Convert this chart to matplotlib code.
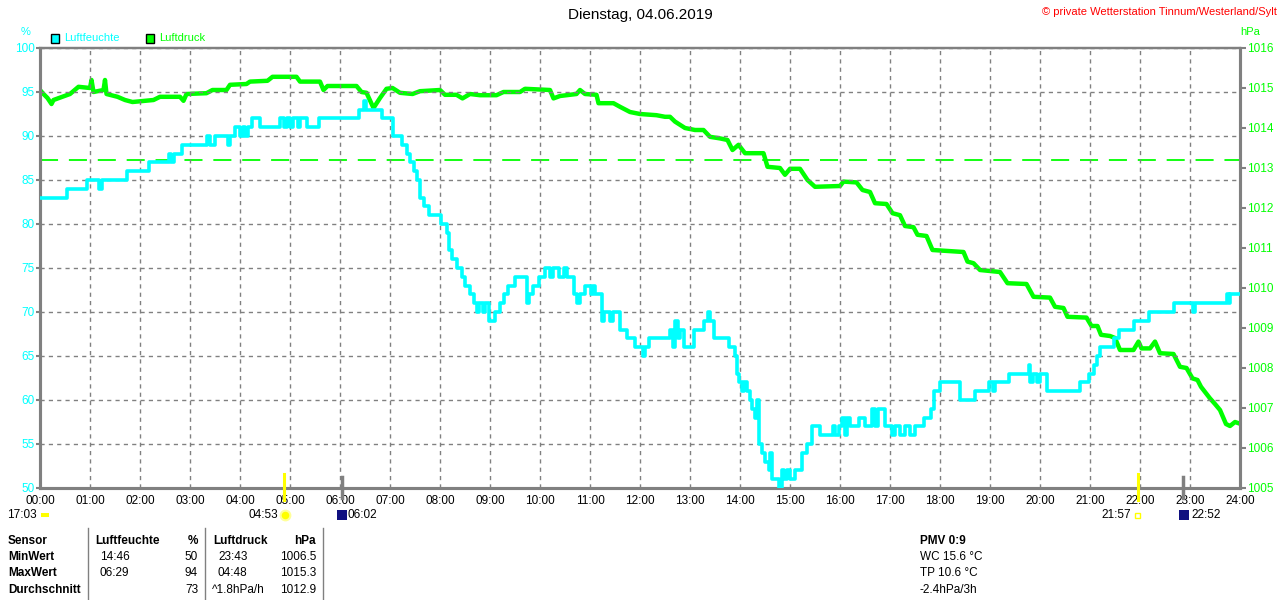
import numpy as np
import matplotlib.pyplot as plt
from matplotlib.patches import Rectangle

plt.rcParams['font.family'] = ['Liberation Sans', 'DejaVu Sans']
plt.rcParams['font.size'] = 8

# Luftfeuchte (%), stufenweise: Stunde, Wert
hum_t = [0.0, 0.53, 0.93, 1.17, 1.23, 1.73, 2.17, 2.57, 2.62, 2.68, 2.83, 3.33, 3.4, 3.5, 3.75,
         3.8, 3.9, 4.0, 4.05, 4.1, 4.15, 4.23, 4.4, 4.8, 4.87, 4.93, 5.0, 5.05, 5.15, 5.2,
         5.33, 5.57, 6.37, 6.47, 6.52, 6.83, 7.05, 7.23, 7.33, 7.4, 7.47, 7.53, 7.6, 7.67,
         7.77, 8.03, 8.13, 8.17, 8.23, 8.33, 8.43, 8.5, 8.6, 8.67, 8.73, 8.78, 8.85, 8.9,
         8.97, 9.1, 9.2, 9.27, 9.37, 9.5, 9.73, 9.77, 9.85, 9.97, 10.1, 10.2, 10.25, 10.37,
         10.47, 10.53, 10.67, 10.73, 10.8, 10.9, 11.02, 11.05, 11.1, 11.23, 11.28, 11.4,
         11.45, 11.6, 11.73, 11.9, 12.05, 12.1, 12.17, 12.6, 12.65, 12.7, 12.75, 12.8, 12.87,
         13.07, 13.27, 13.35, 13.4, 13.47, 13.77, 13.9, 13.93, 13.97, 14.03, 14.07, 14.13,
         14.2, 14.23, 14.3, 14.33, 14.37, 14.43, 14.5, 14.57, 14.6, 14.63, 14.77, 14.83,
         14.87, 14.93, 15.0, 15.1, 15.23, 15.33, 15.43, 15.6, 15.85, 15.9, 15.97, 16.03,
         16.1, 16.13, 16.2, 16.37, 16.5, 16.63, 16.7, 16.75, 16.9, 17.03, 17.1, 17.2, 17.3,
         17.4, 17.5, 17.67, 17.83, 17.87, 18.0, 18.4, 18.7, 18.97, 19.05, 19.1, 19.37, 19.77,
         19.8, 19.85, 19.93, 20.0, 20.13, 20.8, 20.97, 21.07, 21.13, 21.2, 21.47, 21.57,
         21.87, 22.17, 22.67, 23.05, 23.1, 23.73, 23.77, 23.8, 23.97]
hum_v = [83, 84, 85, 84, 85, 86, 87, 88, 87, 88, 89, 90, 89, 90, 89,
         90, 91, 90, 91, 90, 91, 92, 91, 92, 91, 92, 91, 92, 91, 92,
         91, 92, 93, 94, 93, 92, 90, 89, 88, 87, 86, 85, 83, 82,
         81, 80, 79, 77, 76, 75, 74, 73, 72, 71, 70, 71, 70, 71,
         69, 70, 71, 72, 73, 74, 71, 72, 73, 74, 75, 74, 75, 74,
         75, 74, 72, 71, 72, 73, 72, 73, 72, 69, 70, 69,
         70, 68, 67, 66, 65, 66, 67, 68, 66, 69, 67, 68, 66,
         68, 69, 70, 69, 67, 66, 65, 63, 62, 61, 62, 61,
         60, 59, 58, 60, 55, 54, 53, 52, 54, 51, 50, 52,
         51, 52, 51, 52, 54, 55, 57, 56, 57, 56, 57, 58,
         56, 58, 57, 58, 57, 59, 57, 59, 57, 56, 57, 56, 57,
         56, 57, 58, 59, 61, 62, 60, 61, 62, 61, 62, 63, 64,
         62, 63, 62, 63, 61, 62, 63, 64, 65, 66, 67, 68,
         69, 70, 71, 70, 71, 72, 71, 72, 72]

# Luftdruck (hPa)
pres_t = [0.0, 0.07, 0.15, 0.23, 0.27, 0.6, 0.77, 1.0, 1.03, 1.07, 1.27, 1.3, 1.33, 1.55, 1.7,
          1.85, 2.27, 2.4, 2.8, 2.87, 2.93, 3.33, 3.45, 3.73, 3.8, 4.13, 4.2, 4.55, 4.65,
          5.13, 5.2, 5.6, 5.67, 5.75, 6.33, 6.43, 6.53, 6.67, 6.8, 6.93, 7.05, 7.2, 7.45,
          7.6, 8.0, 8.1, 8.33, 8.45, 8.6, 8.8, 9.13, 9.27, 9.6, 9.7, 10.2, 10.27, 10.4,
          10.73, 10.8, 10.9, 11.13, 11.17, 11.47, 11.6, 11.8, 12.0, 12.33, 12.5, 12.6, 12.7,
          12.9, 13.1, 13.27, 13.4, 13.6, 13.75, 13.85, 13.97, 14.1, 14.47, 14.55, 14.8, 14.9,
          15.0, 15.2, 15.35, 15.5, 16.0, 16.07, 16.33, 16.45, 16.6, 16.7, 16.93, 17.05, 17.2,
          17.3, 17.47, 17.55, 17.73, 17.85, 18.47, 18.55, 18.67, 18.8, 19.2, 19.35, 19.73,
          19.87, 20.2, 20.3, 20.47, 20.55, 20.93, 21.03, 21.15, 21.22, 21.4, 21.5, 21.6,
          21.87, 21.97, 22.03, 22.2, 22.3, 22.4, 22.67, 22.8, 22.93, 23.05, 23.15, 23.22,
          23.3, 23.4, 23.5, 23.6, 23.72, 23.8, 23.9, 23.97]
pres_v = [1014.95, 1014.85, 1014.75, 1014.6, 1014.7, 1014.85, 1015.03, 1015.0, 1015.2, 1014.9,
          1014.95, 1015.2, 1014.85, 1014.78, 1014.7, 1014.65, 1014.7, 1014.78, 1014.78,
          1014.68, 1014.85, 1014.87, 1014.95, 1014.95, 1015.08, 1015.1, 1015.16, 1015.18,
          1015.28, 1015.28, 1015.16, 1015.16, 1014.95, 1015.05, 1015.05, 1014.9, 1014.88,
          1014.5, 1014.75, 1014.98, 1015.0, 1014.88, 1014.85, 1014.92, 1014.95, 1014.83,
          1014.83, 1014.74, 1014.85, 1014.82, 1014.82, 1014.9, 1014.9, 1014.98, 1014.95,
          1014.74, 1014.8, 1014.85, 1014.95, 1014.85, 1014.83, 1014.62, 1014.62, 1014.53,
          1014.4, 1014.35, 1014.32, 1014.28, 1014.28, 1014.16, 1014.0, 1013.95, 1013.95,
          1013.78, 1013.74, 1013.7, 1013.45, 1013.58, 1013.37, 1013.37, 1013.03, 1013.0,
          1012.83, 1012.98, 1012.98, 1012.7, 1012.53, 1012.55, 1012.66, 1012.64, 1012.45,
          1012.4, 1012.12, 1012.1, 1011.87, 1011.82, 1011.55, 1011.52, 1011.33, 1011.3,
          1010.95, 1010.9, 1010.66, 1010.62, 1010.45, 1010.4, 1010.12, 1010.1, 1009.78,
          1009.76, 1009.53, 1009.5, 1009.28, 1009.26, 1009.05, 1009.05, 1008.83, 1008.8,
          1008.75, 1008.45, 1008.45, 1008.66, 1008.49, 1008.49, 1008.66, 1008.37, 1008.35,
          1008.03, 1008.0, 1007.74, 1007.7, 1007.53, 1007.4, 1007.24, 1007.1, 1006.95,
          1006.6, 1006.55, 1006.65, 1006.62]
pres_ref = 1013.2

hours = list(range(25))
hour_labels = ['%02d:00' % h for h in hours]
hum_ticks = list(range(50, 101, 5))
pres_ticks = list(range(1005, 1017))

# Sonne / Mond
sun_rise, sun_set = 4 + 53 / 60, 21 + 57 / 60
moon_rise, moon_set = 6 + 2 / 60, 22 + 52 / 60

table_rows = [
    ['Sensor', 'Luftfeuchte', '%', 'Luftdruck', 'hPa'],
    ['MinWert', '14:46', '50', '23:43', '1006.5'],
    ['MaxWert', '06:29', '94', '04:48', '1015.3'],
    ['Durchschnitt', '', '73', '^1.8hPa/h', '1012.9'],
]
extra_lines = ['PMV 0:9', 'WC 15.6 °C', 'TP 10.6 °C', '-2.4hPa/3h']

CYAN = '#00ffff'
GREEN = '#00ff00'
GRAY = '#808080'

W, H = 1280, 600
fig = plt.figure(figsize=(W / 100, H / 100), dpi=100)


def fx(x):
    return x / W


def fy(y):
    return 1 - y / H


ax = fig.add_axes([fx(40), fy(488), fx(1200), 440 / H])
ax2 = ax.twinx()

ax.plot(hum_t, hum_v, color=CYAN, lw=2.6, drawstyle='steps-post', zorder=3)
ax2.plot(pres_t, pres_v, color=GREEN, lw=3.2, zorder=3)
ax2.axhline(pres_ref, color=GREEN, lw=1.3, dashes=(10, 6))

ax.set_xlim(0, 24)
ax.set_ylim(50, 100)
ax2.set_ylim(1005, 1016)
ax.set_xticks(hours)
ax.set_xticklabels(hour_labels)
ax.set_yticks(hum_ticks)
ax2.set_yticks(pres_ticks)
ax.grid(True, color=GRAY, lw=1, dashes=(3, 3))
ax.tick_params(axis='x', length=0, pad=5, labelsize=8.5, colors='black')
ax.tick_params(axis='y', length=3, width=1.5, color=GRAY, pad=1, labelsize=8.5, labelcolor=CYAN)
ax2.tick_params(axis='y', length=4, width=1.5, color=GRAY, pad=1, labelsize=8.5, labelcolor=GREEN)
for a in (ax, ax2):
    for s in a.spines.values():
        s.set_color(GRAY)
        s.set_linewidth(2.2)
    a.spines['top'].set_linewidth(1.6)
ax.set_zorder(ax2.get_zorder() + 1)
ax.patch.set_visible(False)

# Sonne/Mond Striche an der Achse
ax.plot([sun_rise, sun_rise], [48.6, 51.6], color='#ffff00', lw=2.2, clip_on=False, zorder=5)
ax.plot([sun_set, sun_set], [48.6, 51.6], color='#ffff00', lw=2.2, clip_on=False, zorder=5)
ax.plot([moon_rise, moon_rise], [48.9, 51.2], color=GRAY, lw=2.5, clip_on=False, zorder=5)
ax.plot([moon_set, moon_set], [48.9, 51.2], color=GRAY, lw=2.5, clip_on=False, zorder=5)

# Kopf
fig.text(0.5, fy(15), 'Dienstag, 04.06.2019', ha='center', va='center', fontsize=11)
fig.text(fx(1277), fy(12), '© private Wetterstation Tinnum/Westerland/Sylt', ha='right',
         va='center', color='#ff0000', fontsize=8)
fig.text(fx(26), fy(32), '%', color=CYAN, ha='center', va='center', fontsize=8)
fig.text(fx(1250), fy(32), 'hPa', color=GREEN, ha='center', va='center', fontsize=8)
fig.patches.append(Rectangle((fx(51), fy(43)), 8 / W, 9 / H, transform=fig.transFigure,
                             facecolor=CYAN, edgecolor='black', lw=1))
fig.text(fx(64), fy(38), 'Luftfeuchte', color=CYAN, va='center', fontsize=8)
fig.patches.append(Rectangle((fx(146), fy(43)), 8 / W, 9 / H, transform=fig.transFigure,
                             facecolor=GREEN, edgecolor='black', lw=1))
fig.text(fx(159), fy(38), 'Luftdruck', color=GREEN, va='center', fontsize=8)

# Sonne / Mond Beschriftung
ly = 515
fig.text(fx(37), fy(ly), '17:03', ha='right', va='center', fontsize=8.5)
fig.patches.append(Rectangle((fx(41), fy(517)), 8 / W, 4 / H, transform=fig.transFigure,
                             facecolor='#ffff00', edgecolor='none'))
fig.text(fx(278), fy(ly), '04:53', ha='right', va='center', fontsize=8.5)
fig.add_artist(plt.Line2D([fx(285)], [fy(515)], marker='o', ms=7, color='#ffff00',
                          markeredgecolor='#ffff99', markeredgewidth=1.5))
fig.patches.append(Rectangle((fx(337), fy(520)), 10 / W, 10 / H, transform=fig.transFigure,
                             facecolor='#101080', edgecolor='none'))
fig.text(fx(348), fy(ly), '06:02', ha='left', va='center', fontsize=8.5)
fig.text(fx(1131), fy(ly), '21:57', ha='right', va='center', fontsize=8.5)
fig.patches.append(Rectangle((fx(1135), fy(518)), 5 / W, 5 / H, transform=fig.transFigure,
                             facecolor='white', edgecolor='#ffff00', lw=1))
fig.patches.append(Rectangle((fx(1179), fy(520)), 10 / W, 10 / H, transform=fig.transFigure,
                             facecolor='#101080', edgecolor='none'))
fig.text(fx(1191), fy(ly), '22:52', ha='left', va='center', fontsize=8.5)

# Tabelle
for xv in (88, 205, 323):
    fig.add_artist(plt.Line2D([fx(xv), fx(xv)], [fy(528), fy(600)], color=GRAY, lw=1))
row_y = [541, 557, 573, 590]
col_x = [8, 100, 198, 218, 316]
col_ha = ['left', 'left', 'right', 'left', 'right']
for r, row in enumerate(table_rows):
    for c, txt in enumerate(row):
        x = col_x[c]
        if r == 0 and c in (1, 3):
            x -= 5
        if r == 3 and c == 3:
            x = 212
        bold = (r == 0 or c == 0)
        fig.text(fx(x), fy(row_y[r]), txt, ha=col_ha[c], va='center', fontsize=8.5,
                 fontweight='bold' if bold else 'normal')
for i, txt in enumerate(extra_lines):
    fig.text(fx(920), fy(row_y[i]), txt, ha='left', va='center', fontsize=8.5,
             fontweight='bold' if i == 0 else 'normal')

fig.savefig('out.png', dpi=100)
